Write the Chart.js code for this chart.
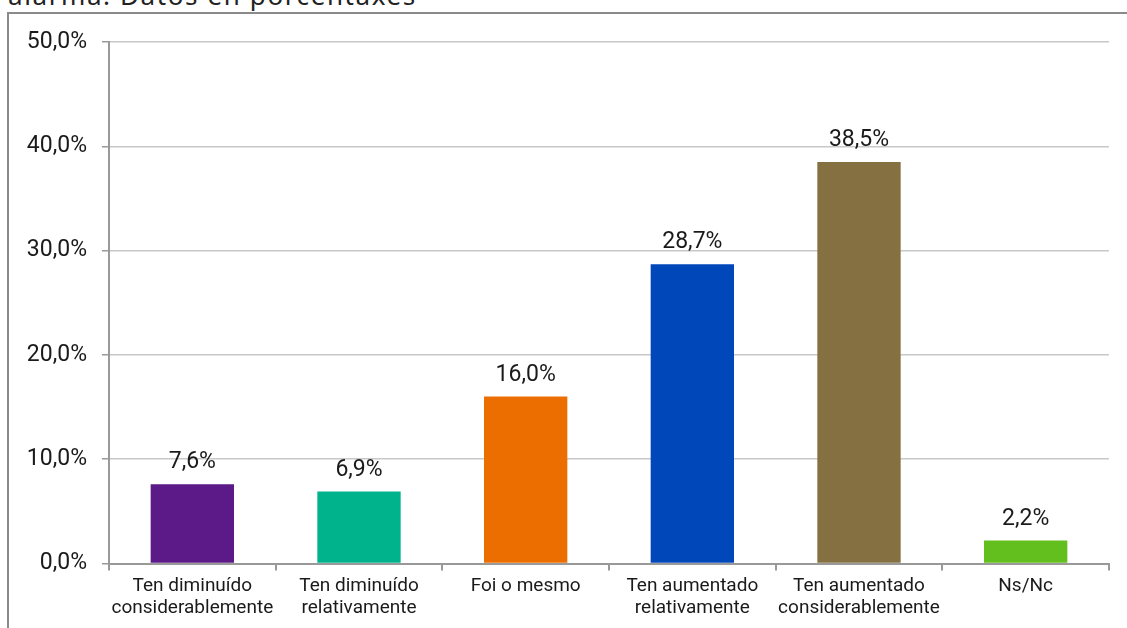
<!DOCTYPE html>
<html>
<head>
<meta charset="utf-8">
<script src="https://cdn.jsdelivr.net/npm/chart.js@4"></script>
<style>
  html, body { margin: 0; padding: 0; background: #fff; overflow: hidden; }
  #title {
    position: absolute; left: 8px; top: -23px;
    font-family: "Noto Sans", sans-serif; font-size: 26px; color: #222;
    white-space: nowrap; letter-spacing: 1.6px;
  }
  #frame {
    position: absolute; left: 7px; top: 12px; width: 1200px; height: 700px;
    border-left: 2px solid #8a8a8a; border-top: 2px solid #8a8a8a;
  }
  #chart { position: absolute; left: 0; top: 0; }
</style>
</head>
<body>
<div id="title">alarma. Datos en porcentaxes</div>
<div id="frame"></div>
<canvas id="chart" width="1127" height="628"></canvas>
<script>
// categories and values
const categories = [
    ['Ten diminuído', 'considerablemente'],
    ['Ten diminuído', 'relativamente'],
    'Foi o mesmo',
    ['Ten aumentado', 'relativamente'],
    ['Ten aumentado', 'considerablemente'],
    'Ns/Nc'
];
const values = [7.6, 6.9, 16.0, 28.7, 38.5, 2.2];
const barColors = ['#5b1a87', '#00b38c', '#ec6e00', '#0047ba', '#847040', '#62bf1e'];
const yTicks = [0, 10, 20, 30, 40, 50];

const fmt = v => v.toFixed(1).replace('.', ',') + '%';

// draw value labels above each bar
const valueLabels = {
    id: 'valueLabels',
    afterDatasetsDraw(chart) {
        const ctx = chart.ctx;
        const meta = chart.getDatasetMeta(0);
        ctx.save();
        ctx.font = '23px Roboto';
        ctx.fillStyle = '#1a1a1a';
        ctx.textAlign = 'center';
        ctx.textBaseline = 'alphabetic';
        meta.data.forEach((bar, i) => {
            ctx.fillText(fmt(values[i]), bar.x, bar.y - 16);
        });
        ctx.restore();
    }
};

new Chart(document.getElementById('chart'), {
    type: 'bar',
    data: {
        labels: categories,
        datasets: [{
            data: values,
            backgroundColor: barColors,
            barPercentage: 0.5,
            categoryPercentage: 1
        }]
    },
    options: {
        responsive: false,
        animation: false,
        layout: { padding: { top: 42, right: 18, bottom: 0, left: 0 } },
        plugins: {
            legend: { display: false },
            tooltip: { enabled: false }
        },
        scales: {
            x: {
                grid: { drawOnChartArea: false, tickLength: 7, tickColor: '#999', lineWidth: 2 },
                border: { color: '#999', width: 2 },
                ticks: { color: '#1a1a1a', font: { family: 'Roboto', size: 19, lineHeight: 1.16 }, padding: 5, maxRotation: 0, autoSkip: false },
                afterFit: s => { s.height = 64.5; }
            },
            y: {
                min: 0, max: 50,
                afterBuildTicks: s => { s.ticks = yTicks.map(v => ({ value: v })); },
                grid: { color: '#c8c8c8', lineWidth: 1.5, tickLength: 7, tickColor: '#999' },
                border: { color: '#999', width: 2 },
                ticks: { color: '#1a1a1a', font: { family: 'Roboto', size: 23 }, padding: 15, callback: v => fmt(v) },
                afterFit: s => { s.width = 109; }
            }
        }
    },
    plugins: [valueLabels]
});
</script>
</body>
</html>
